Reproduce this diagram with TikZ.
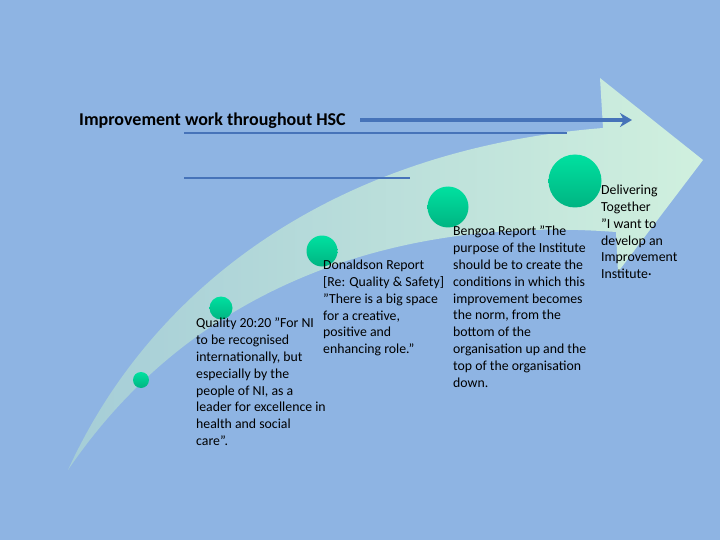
\documentclass[tikz,border=0pt]{standalone}
\usepackage{fontspec}
\usetikzlibrary{arrows.meta}
\setmainfont{Carlito}
\begin{document}
\begin{tikzpicture}[x=1pt,y=-1pt,
  txt/.style={anchor=north west,inner sep=0pt,align=left,font=\fontsize{13.8}{16.8}\selectfont},
  dot/.style={circle,inner sep=0pt,top color={rgb,255:red,0;green,225;blue,160},bottom color={rgb,255:red,0;green,180;blue,130},draw=none},
  bl/.style={draw={rgb,255:red,70;green,115;blue,185}}]
\definecolor{bg}{RGB}{142,180,227}
\definecolor{arL}{RGB}{165,205,215}
\definecolor{arR}{RGB}{208,240,222}
\fill[bg] (0,0) rectangle (720,540);
\useasboundingbox (0,0) rectangle (720,540);
\shade[left color=arL, right color=arR]
  (68,470) .. controls (150,290) and (330,150) .. (603,128) -- (600,78) -- (703,160) -- (618,272) -- (616,232)
  .. controls (390,215) and (190,290) .. cycle;
\draw[bl,line width=3.5pt,-{Stealth[length=12pt,width=14pt]}] (360,120) coordinate(a) -- (632,120) coordinate(b);
\draw[bl,line width=1.8pt] (184,133) coordinate(c) -- (567,133) coordinate(d);
\draw[bl,line width=1.8pt] (184,178) coordinate(e) -- (410,178) coordinate(f);
\node[anchor=west,inner sep=0pt,font=\bfseries\fontsize{18}{18}\selectfont] (t) at (79,121) {Improvement work throughout HSC};
\node[dot,minimum size=16pt] (c1) at (141,380) {};
\node[dot,minimum size=23pt] (c2) at (221,308) {};
\node[dot,minimum size=31pt] (c3) at (322,251) {};
\node[dot,minimum size=41pt] (c4) at (448,207) {};
\node[dot,minimum size=53pt] (c5) at (575,181) {};
\node[txt] (q) at (196,318) {Quality 20:20 "For NI\\to be recognised\\internationally, but\\especially by the\\people of NI, as a\\leader for excellence in\\health and social\\care”.};
\node[txt] (d) at (323,260) {Donaldson Report\\{[}Re: Quality \& Safety{]}\\"There is a big space\\for a creative,\\positive and\\enhancing role."};
\node[txt] (g) at (453,226) {Bengoa Report "The\\purpose of the Institute\\should be to create the\\conditions in which this\\improvement becomes\\the norm, from the\\bottom of the\\organisation up and the\\top of the organisation\\down.};
\node[txt] (dt) at (601,185) {Delivering\\Together\\"I want to\\develop an\\Improvement\\Institute·};
\end{tikzpicture}
\end{document}
